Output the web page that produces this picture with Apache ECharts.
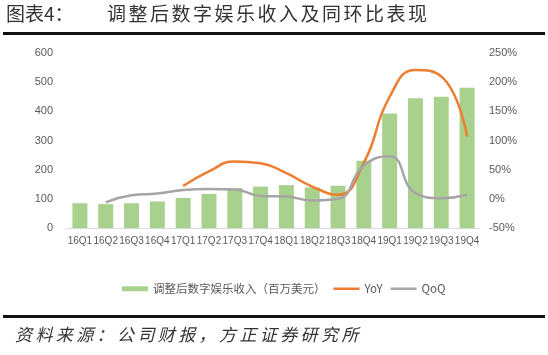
<!DOCTYPE html>
<html><head><meta charset="utf-8">
<script src="https://cdn.jsdelivr.net/npm/echarts@6/dist/echarts.min.js"></script>
<style>html,body{margin:0;padding:0;background:#fff}#c{width:548px;height:355px}</style>
</head><body><div id="c"></div>
<script>
const categories = ['16Q1','16Q2','16Q3','16Q4','17Q1','17Q2','17Q3','17Q4','18Q1','18Q2','18Q3','18Q4','19Q1','19Q2','19Q3','19Q4'];
const revenue = [85, 82, 85, 91, 103, 117, 137, 142, 147, 139, 145, 231, 393, 445, 450, 481];
const yoy = [null, null, null, null, 22, 47, 64, 61, 44, 21, 7, 62, 175, 221, 210, 107];
const qoq = [null, -6, 6, 9, 15, 17, 16, 5, 4, -3, 0, 57, 73, 10, 1, 7];
const leftTicks = [0, 100, 200, 300, 400, 500, 600];
const rightTicks = [-50, 0, 50, 100, 150, 200, 250];
const names = ['调整后数字娱乐收入（百万美元）', 'YoY', 'QoQ'];
const titleText = '图表4：';
const titleMain = '调整后数字娱乐收入及同环比表现';
const sourceText = '资料来源：公司财报，方正证券研究所';

const chart = echarts.init(document.getElementById('c'), null, {renderer: 'canvas'});
const cjk = '"Noto Sans CJK SC", sans-serif';
const lab = {color: '#595959', fontSize: 11, fontFamily: 'Liberation Sans, Arial, sans-serif'};

function spaced(str, x0, y0, step, font, fill) {
  return {type: 'group', left: x0, top: y0, children: Array.from(str).map((ch, i) => ({
    type: 'text', x: i * step, y: 0, style: {text: ch, font: font, fill: fill}
  }))};
}
const lineIcon = 'path://M0,0L26,0L26,2.5L0,2.5Z';

chart.setOption({
  animation: false,
  grid: {left: 67, right: 68, top: 53, bottom: 127},
  graphic: [
    {type: 'text', left: 6, top: 4, style: {text: titleText, font: '19px ' + cjk, fill: '#333'}},
    spaced(titleMain, 107, 4, 21.5, '19px ' + cjk, '#333'),
    {type: 'rect', shape: {x: 3, y: 32, width: 542, height: 3}, style: {fill: '#111'}},
    {type: 'rect', shape: {x: 3, y: 315, width: 542, height: 3}, style: {fill: '#111'}},
    spaced(sourceText, 15, 326, 20.4, 'italic 17px ' + cjk, '#333')
  ],
  legend: {
    left: 117, top: 278, itemWidth: 26, itemHeight: 5, itemGap: 8,
    textStyle: {color: '#595959', fontSize: 11.5, fontFamily: cjk},
    data: [
      {name: names[0], icon: 'rect'},
      {name: names[1], icon: lineIcon},
      {name: names[2], icon: lineIcon}
    ]
  },
  xAxis: {
    type: 'category', data: categories,
    axisLine: {lineStyle: {color: '#D9D9D9'}},
    axisTick: {show: false},
    axisLabel: {interval: 0, margin: 8, fontSize: 10, color: '#595959', fontFamily: 'Liberation Sans, Arial, sans-serif'}
  },
  yAxis: [
    {type: 'value', min: leftTicks[0], max: leftTicks[leftTicks.length - 1], interval: 100,
     splitLine: {show: false}, axisLine: {show: false}, axisTick: {show: false},
     axisLabel: Object.assign({margin: 14}, lab)},
    {type: 'value', min: rightTicks[0], max: rightTicks[rightTicks.length - 1], interval: 50,
     splitLine: {show: false}, axisLine: {show: false}, axisTick: {show: false},
     axisLabel: Object.assign({margin: 9, formatter: '{value}%'}, lab)}
  ],
  series: [
    {name: names[0], type: 'bar', data: revenue, barWidth: '58%', itemStyle: {color: '#A9D18E'}},
    {name: names[1], type: 'line', yAxisIndex: 1, data: yoy, smooth: 0.5, symbol: 'none',
     lineStyle: {color: '#ED7D31', width: 2.5}, itemStyle: {color: '#ED7D31'}},
    {name: names[2], type: 'line', yAxisIndex: 1, data: qoq, smooth: 0.5, symbol: 'none',
     lineStyle: {color: '#A5A5A5', width: 2.5}, itemStyle: {color: '#A5A5A5'}}
  ]
});
</script></body></html>
